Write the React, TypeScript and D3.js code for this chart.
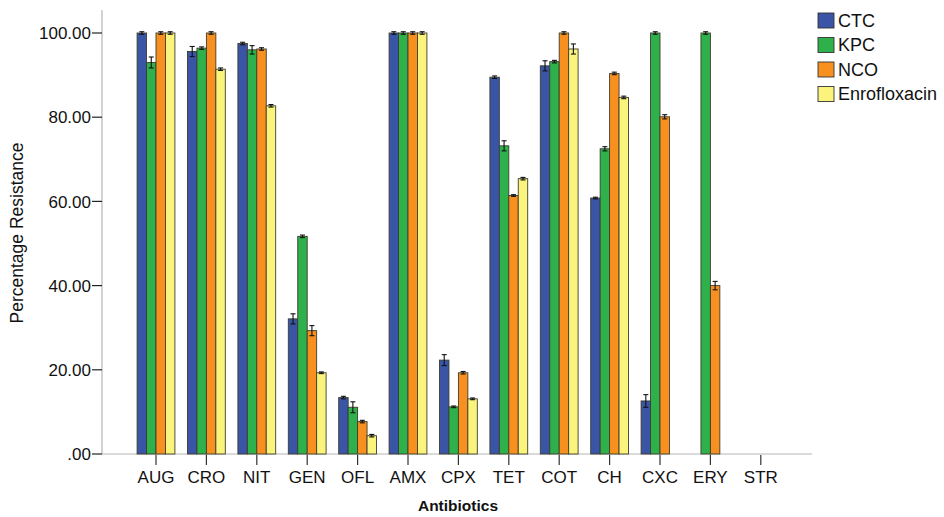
import React from 'react';
import * as d3 from 'd3';

const antibiotics = ['AUG', 'CRO', 'NIT', 'GEN', 'OFL', 'AMX', 'CPX', 'TET', 'COT', 'CH', 'CXC', 'ERY', 'STR'];
const seriesNames = ['CTC', 'KPC', 'NCO', 'Enrofloxacin'];
const seriesColors = ['#3a55a6', '#2eb14b', '#f7901e', '#fbf47c'];

const ctc = [100, 95.6, 97.5, 32.1, 13.4, 100, 22.3, 89.5, 92.2, 60.8, 12.6, 0, 0];
const kpc = [93.0, 96.4, 96.0, 51.7, 11.1, 100, 11.2, 73.2, 93.2, 72.5, 100, 100, 0];
const nco = [100, 100, 96.2, 29.3, 7.7, 100, 19.3, 61.4, 100, 90.4, 80.1, 40.0, 0];
const enro = [100, 91.4, 82.7, 19.3, 4.35, 100, 13.1, 65.4, 96.2, 84.7, 0, 0, 0];

const ctcErr = [0.3, 1.2, 0.3, 1.2, 0.3, 0.3, 1.3, 0.3, 1.2, 0.2, 1.5, 0, 0];
const kpcErr = [1.3, 0.3, 1.0, 0.3, 1.3, 0.3, 0.2, 1.2, 0.3, 0.5, 0.3, 0.3, 0];
const ncoErr = [0.3, 0.3, 0.3, 1.2, 0.3, 0.3, 0.3, 0.2, 0.3, 0.3, 0.5, 1.0, 0];
const enroErr = [0.3, 0.3, 0.3, 0.2, 0.3, 0.3, 0.2, 0.3, 1.2, 0.3, 0, 0, 0];

const yTicks = [0, 20, 40, 60, 80, 100];

const values = [ctc, kpc, nco, enro];
const errors = [ctcErr, kpcErr, ncoErr, enroErr];

const W = 944;
const H = 517;
const font = '"Liberation Sans", Arial, sans-serif';

export default function App() {
  const x = d3.scaleBand<string>()
    .domain(antibiotics)
    .range([130.8, 786])
    .paddingInner(0.25)
    .paddingOuter(0.125);

  const x1 = d3.scaleBand<string>()
    .domain(seriesNames)
    .range([0, x.bandwidth()]);

  const y = d3.scaleLinear().domain([0, 100]).range([454, 33]);

  const fmt = (v: number) => d3.format('.2f')(v).replace(/^0\./, '.');

  const axisX = 102;
  const capW = 2.5;

  return (
    <div style={{ position: 'absolute', left: 0, top: 0 }}>
      <svg width={W} height={H} style={{ display: 'block', background: '#fff' }}>
        {/* axes */}
        <line x1={axisX} x2={axisX} y1={10} y2={y(0)} stroke="#b5b5b5" strokeWidth={1.2} />
        <line x1={axisX} x2={812} y1={y(0)} y2={y(0)} stroke="#b5b5b5" strokeWidth={1.2} />

        {yTicks.map(t => (
          <g key={t}>
            <line x1={axisX - 10} x2={axisX} y1={y(t)} y2={y(t)} stroke="#222" strokeWidth={1.2} />
            <text x={axisX - 11} y={y(t)} dy="0.36em" textAnchor="end" fontFamily={font} fontSize={17} fill="#111">
              {fmt(t)}
            </text>
          </g>
        ))}

        {antibiotics.map(a => {
          const cx = (x(a) as number) + x.bandwidth() / 2;
          return (
            <g key={a}>
              <line x1={cx} x2={cx} y1={y(0) + 1} y2={y(0) + 11} stroke="#333" strokeWidth={1.2} />
              <text x={cx} y={483} textAnchor="middle" fontFamily={font} fontSize={17} fill="#111">{a}</text>
            </g>
          );
        })}

        <text x={458} y={511} textAnchor="middle" fontFamily={font} fontSize={15.5} fontWeight="bold" fill="#111">
          Antibiotics
        </text>
        <text
          transform={`translate(23, 233) rotate(-90)`}
          textAnchor="middle"
          fontFamily={font}
          fontSize={17.5}
          fill="#111"
        >
          Percentage Resistance
        </text>

        {/* bars */}
        {seriesNames.map((s, si) => (
          <g key={s}>
            {antibiotics.map((a, i) => {
              const bx = (x(a) as number) + (x1(s) as number);
              const v = values[si][i];
              return (
                <rect
                  key={a}
                  x={bx}
                  y={y(v)}
                  width={x1.bandwidth()}
                  height={y(0) - y(v)}
                  fill={seriesColors[si]}
                  stroke="#3d3d2e"
                  strokeWidth={0.9}
                />
              );
            })}
          </g>
        ))}

        {/* error bars */}
        {seriesNames.map((s, si) => (
          <g key={s + '-err'} stroke="#111" strokeWidth={1.1}>
            {antibiotics.map((a, i) => {
              const v = values[si][i];
              const e = errors[si][i];
              if (v === 0) return null;
              const cx = (x(a) as number) + (x1(s) as number) + x1.bandwidth() / 2;
              const top = y(Math.min(100, v) + e);
              const bot = y(v - e);
              return (
                <g key={a}>
                  <line x1={cx} x2={cx} y1={top} y2={bot} />
                  <line x1={cx - capW} x2={cx + capW} y1={top} y2={top} />
                  <line x1={cx - capW} x2={cx + capW} y1={bot} y2={bot} />
                </g>
              );
            })}
          </g>
        ))}

        {/* legend */}
        {seriesNames.map((s, si) => (
          <g key={s + '-leg'} transform={`translate(818, ${13 + si * 24.5})`}>
            <rect x={0} y={0} width={16} height={15} fill={seriesColors[si]} stroke="#333" strokeWidth={0.9} />
            <text x={20} y={7.5} dy="0.36em" fontFamily={font} fontSize={18} fill="#111">{s}</text>
          </g>
        ))}
      </svg>
    </div>
  );
}
